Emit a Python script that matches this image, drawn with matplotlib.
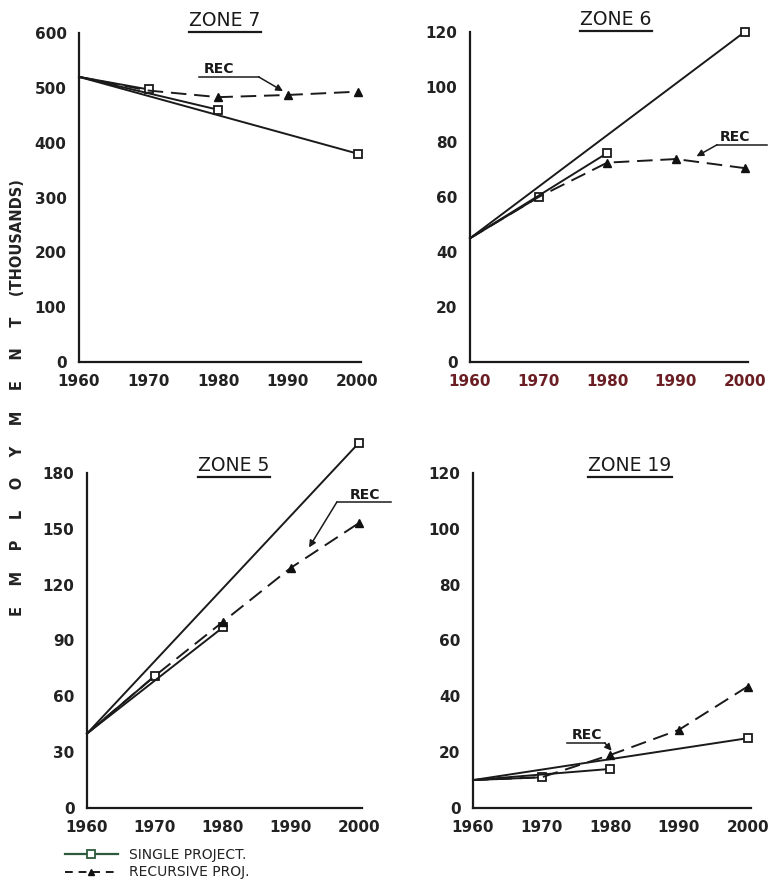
import matplotlib
matplotlib.use("Agg")
import matplotlib.pyplot as plt
from matplotlib.lines import Line2D

plt.rcParams['font.family'] = ['DejaVu Sans']

years = [1960, 1970, 1980, 1990, 2000]
single_years = [1970, 1980, 2000]

# zone 7
z7_base = 520
z7_single = [497, 460, 380]
z7_rec = [520, 495, 483, 487, 493]
# zone 6
z6_base = 45
z6_single = [60, 76, 120]
z6_rec = [45, 60, 72.5, 73.8, 70.5]
# zone 5
z5_base = 40
z5_single = [71, 97, 196]
z5_rec = [40, 71, 100, 129, 153]
# zone 19
z19_base = 10
z19_single = [11, 14, 25]
z19_rec = [10, 11, 19, 28, 43.5]

W, H = 783, 883
fig = plt.figure(figsize=(W / 100, H / 100), dpi=100)


def px_axes(left, right, bottom, top):
    return fig.add_axes([left / W, 1 - bottom / H, (right - left) / W, (bottom - top) / H])


def draw_zone(ax, title, base, single, rec, ymax, yticks, tx, ty, rec_text, rec_line, rec_arrow,
              tick_color='#222222'):
    for yr, val in zip(single_years, single):
        ax.plot([1960, yr], [base, val], '-', color='#1a1a1a', lw=1.4,
                marker='s', markevery=[1], ms=6, mfc='white', mec='#1a1a1a', mew=1.3,
                clip_on=False, zorder=3)
    ax.plot(years, rec, color='#1a1a1a', lw=1.4, dashes=(8, 4),
            marker='^', markevery=[2, 3, 4], ms=6, mfc='#111111', mec='#111111',
            clip_on=False, zorder=3)
    ax.set_xlim(1960, 2000.5)
    ax.set_ylim(0, ymax)
    ax.set_xticks(years)
    ax.set_yticks(yticks)
    ax.tick_params(length=0, labelsize=11, pad=9, colors='#222222')
    for lab in ax.get_xticklabels() + ax.get_yticklabels():
        lab.set_fontweight('bold')
    for lab in ax.get_xticklabels():
        lab.set_color(tick_color)
    for s in ['top', 'right']:
        ax.spines[s].set_visible(False)
    for s in ['left', 'bottom']:
        ax.spines[s].set_linewidth(1.6)
        ax.spines[s].set_color('#1a1a1a')
    t = ax.text(tx, ty, title, transform=ax.transAxes, ha='center', va='bottom',
                fontsize=13.5, color='#1a1a1a')
    # REC label with underline and arrow
    ax.text(rec_text[0], rec_text[1], 'REC', ha='center', va='bottom', fontsize=10,
            fontweight='bold', color='#1a1a1a', clip_on=False)
    ax.plot(rec_line[0], rec_line[1], color='#1a1a1a', lw=1.1, clip_on=False)
    ax.annotate('', xy=rec_arrow[1], xytext=rec_arrow[0],
                arrowprops=dict(arrowstyle='-|>', lw=1.1, color='#1a1a1a',
                                mutation_scale=10, shrinkA=0, shrinkB=0),
                annotation_clip=False)
    return t


ax7 = px_axes(79, 361, 362, 33)
t7 = draw_zone(ax7, 'ZONE 7', z7_base, z7_single, z7_rec, 600, range(0, 601, 100),
               0.518, 1.01, (1980.1, 522), ([1977.2, 1985.8], [520, 520]),
               ((1985.8, 520), (1989.3, 494)))

ax6 = px_axes(470, 748, 362, 32)
t6 = draw_zone(ax6, 'ZONE 6', z6_base, z6_single, z6_rec, 120, range(0, 121, 20),
               0.525, 1.01, (1998.6, 79.3), ([1996.0, 2003.2], [79, 79]),
               ((1996.0, 79), (1993.0, 74.8)), tick_color='#6b1f24')

ax5 = px_axes(87, 362, 808, 473)
t5 = draw_zone(ax5, 'ZONE 5', z5_base, z5_single, z5_rec, 180, range(0, 181, 30),
               0.535, 0.995, (2000.9, 164.6), ([1996.8, 2004.8], [164.4, 164.4]),
               ((1996.8, 164.4), (1992.7, 140)))

ax19 = px_axes(473, 751, 808, 473)
t19 = draw_zone(ax19, 'ZONE 19', z19_base, z19_single, z19_rec, 120, range(0, 121, 20),
                0.565, 0.995, (1976.6, 23.5), ([1973.7, 1979.2], [23.3, 23.3]),
                ((1979.2, 23.3), (1980.2, 20.5)))

# underline the zone titles
fig.canvas.draw()
renderer = fig.canvas.get_renderer()
for t in [t7, t6, t5, t19]:
    bb = t.get_window_extent(renderer)
    y = (bb.y0 - 2) / H
    fig.add_artist(Line2D([bb.x0 / W, bb.x1 / W], [y, y], color='#1a1a1a', lw=1.6))

fig.text(18 / W, 1 - 398 / H, 'E    M    P    L    O    Y    M    E    N    T    (THOUSANDS)',
         rotation=90, ha='center', va='center', fontsize=10.5, fontweight='bold', color='#222222')

handles = [
    Line2D([], [], color='#2d5a3d', lw=1.6, marker='s', ms=6, mfc='white', mec='#2d5a3d', mew=1.3),
    Line2D([], [], color='#1a1a1a', lw=1.4, dashes=(4, 3), marker='^', ms=5, mfc='#111111', mec='#111111'),
]
leg = fig.legend(handles, ['SINGLE PROJECT.', 'RECURSIVE PROJ.'], loc='upper left',
                 bbox_to_anchor=(58 / W, 1 - 841 / H), frameon=False, fontsize=10,
                 handlelength=3.8, handletextpad=0.8, labelspacing=0.25, borderpad=0)
for txt in leg.get_texts():
    txt.set_color('#222222')

fig.savefig('out.png', dpi=100)
